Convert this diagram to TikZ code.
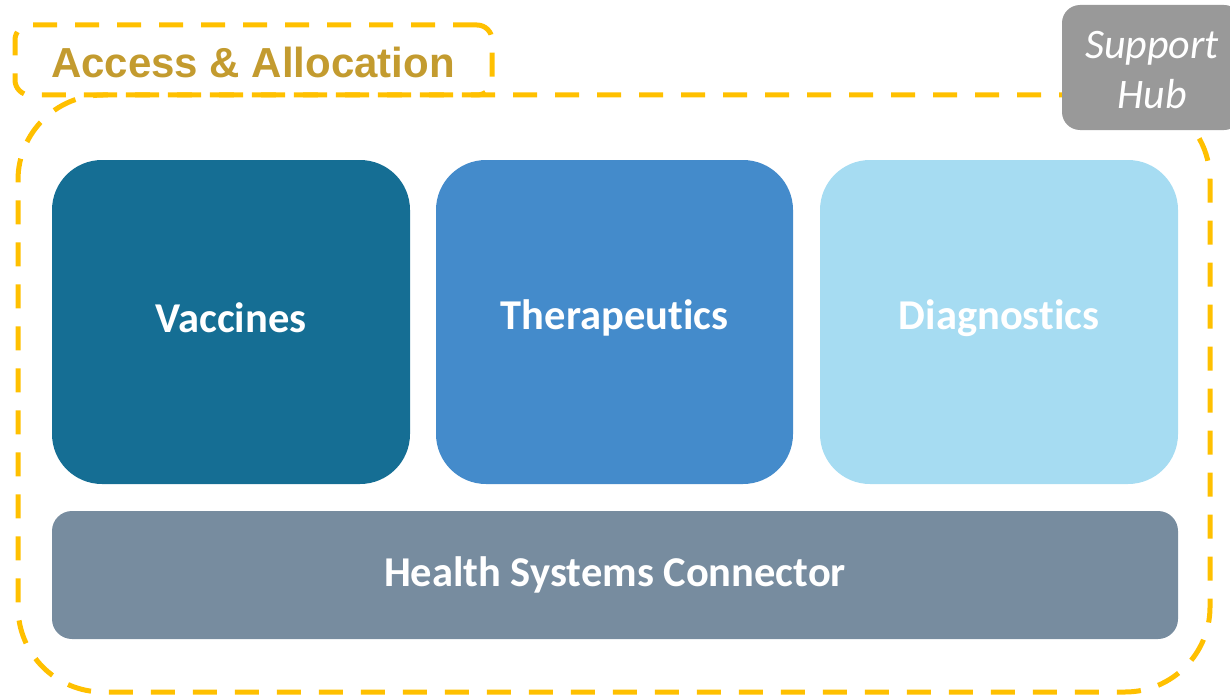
\documentclass[tikz,border=0pt]{standalone}
\usepackage{fontspec}
\setmainfont[Ligatures=NoCommon]{Carlito}
\newfontfamily\accfont{Liberation Sans}
\definecolor{gold}{HTML}{FFC000}
\definecolor{accgold}{HTML}{C39B2F}
\definecolor{vacc}{HTML}{156E94}
\definecolor{thera}{HTML}{448BCB}
\definecolor{diag}{HTML}{A6DCF2}
\definecolor{hsc}{HTML}{778C9F}
\definecolor{hub}{HTML}{999999}
\tikzset{
  pillar/.style={rectangle, rounded corners=50, minimum width=358, minimum height=324, inner sep=0},
  pillartext/.style={text=white, font=\fontsize{42.5}{50}\selectfont\bfseries},
  goldash/.style={draw=gold, line width=5, dash pattern=on 24 off 18},
}
\begin{document}
\begin{tikzpicture}[x=1pt,y=-1pt]
\useasboundingbox (0,0) rectangle (1230,698);
\node[goldash, rectangle, rounded corners=85, minimum width=1192, minimum height=597, inner sep=0] (outer) at (614,393.5) {};
\node[goldash, rectangle, rounded corners=15, minimum width=477, minimum height=70, inner sep=0] (accbox) at (253.5,60) {};
\node[text=accgold, font=\accfont\fontsize{42}{48}\selectfont\bfseries] (acc) at (253,62) {Access \& Allocation};
\node[fill=hub, rectangle, rounded corners=18, minimum width=180, minimum height=125, inner sep=0] (hubbox) at (1152,67.5) {};
\node[text=white, align=center, font=\fontsize{42}{50}\selectfont\itshape] (hubtext) at (1152,70) {Support\\Hub};
\node[pillar, fill=vacc] (vac) at (231,322) {};
\node[pillar, fill=thera, minimum width=357] (the) at (614.5,322) {};
\node[pillar, fill=diag] (dia) at (999,322) {};
\node[pillartext] (vact) at ([yshift=4]vac.center) {Vaccines};
\node[pillartext] (thet) at ([yshift=4]the.center) {Therapeutics};
\node[pillartext] (diat) at ([yshift=4]dia.center) {Diagnostics};
\node[fill=hsc, rectangle, rounded corners=20, minimum width=1126, minimum height=128, inner sep=0,
  pillartext] (hs) at (615,575) {Health Systems Connector};
\end{tikzpicture}
\end{document}
